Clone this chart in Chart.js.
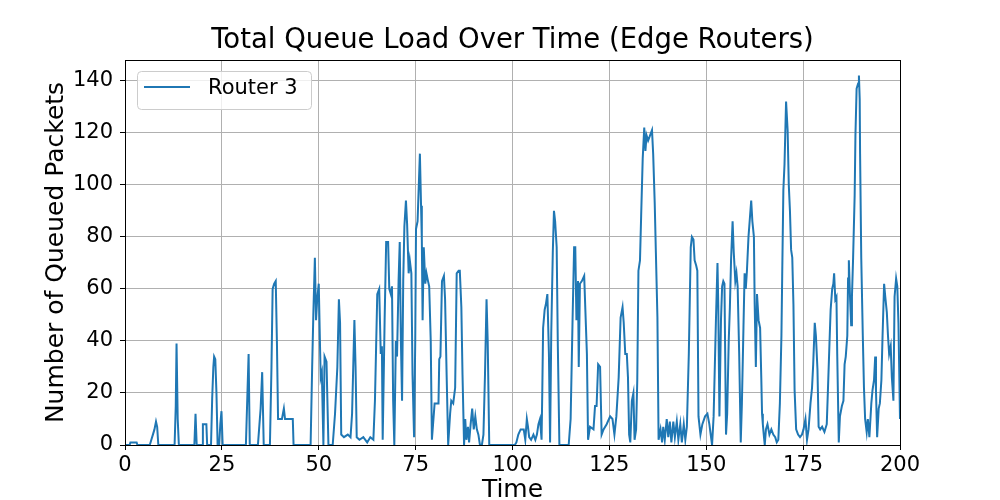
<!DOCTYPE html>
<html lang="en">
<head>
  <meta charset="UTF-8" />
  <title>Total Queue Load Over Time</title>
  <script src="https://cdn.jsdelivr.net/npm/chart.js"></script>
  <style>
    body { margin: 0; background: #fff; }
    canvas { display: block; }
  </style>
</head>
<body>
  <canvas id="queueChart" width="1000" height="500"></canvas>

  <script>
    // values (time, queued packets)
    const times = [
      0, 1.2, 1.4, 3.0, 3.2, 6.4, 6.8, 7.2, 7.6, 8.0,
      8.3, 8.6, 12.8, 13.1, 13.3, 13.6, 13.9, 17.9, 18.2, 18.5,
      19.9, 20.1, 21.0, 21.2, 22.2, 22.5, 22.8, 23.0, 23.3, 23.6,
      23.9, 24.3, 24.6, 24.9, 25.2, 31.2, 31.6, 31.9, 32.2, 34.3,
      34.7, 35.0, 35.4, 35.8, 37.4, 37.8, 38.1, 38.5, 38.9, 39.2,
      39.5, 40.5, 41.0, 41.3, 43.3, 43.5, 47.9, 48.3, 48.6, 49.0,
      49.3, 49.6, 50.0, 50.3, 50.5, 50.8, 51.2, 51.5, 52.0, 52.5,
      53.6, 54.2, 54.8, 55.2, 55.5, 55.8, 56.5, 57.5, 58.2, 58.6,
      58.9, 59.2, 59.5, 59.8, 60.5, 61.5, 62.5, 63.3, 64.1, 64.5,
      65.1, 65.6, 66.0, 66.3, 66.5, 67.0, 67.4, 67.9, 68.2, 68.6,
      68.9, 69.2, 69.5, 69.9, 70.2, 70.6, 70.9, 71.2, 71.5, 71.8,
      72.1, 72.5, 72.8, 73.2, 73.5, 73.9, 74.2, 74.6, 74.9, 75.1,
      75.5, 76.1, 76.4, 76.6, 76.8, 77.1, 77.5, 77.8, 78.2, 78.5,
      78.9, 79.2, 79.5, 79.9, 80.9, 81.1, 81.4, 81.8, 82.3, 82.6,
      83.0, 83.4, 83.9, 84.2, 84.7, 85.2, 85.6, 86.1, 86.4, 86.8,
      87.1, 87.5, 87.8, 88.1, 88.5, 88.8, 89.2, 89.6, 90.0, 90.4,
      90.8, 91.2, 91.6, 92.1, 92.5, 92.9, 93.3, 93.6, 94.0, 100.6,
      101.0, 101.5, 102.1, 102.9, 103.3, 103.7, 104.0, 104.3, 104.8, 105.4,
      105.9, 106.3, 106.7, 107.1, 107.5, 107.7, 107.9, 108.3, 108.6, 109.0,
      109.4, 109.7, 110.0, 110.4, 110.7, 111.0, 111.4, 111.7, 112.1, 114.5,
      115.0, 115.5, 115.9, 116.2, 116.5, 116.9, 117.1, 117.4, 117.9, 118.5,
      118.8, 119.2, 119.5, 120.0, 120.9, 121.3, 121.7, 122.1, 122.6, 123.0,
      123.5, 124.3, 125.2, 125.8, 126.3, 126.8, 127.4, 127.9, 128.4, 128.7,
      129.1, 129.5, 129.8, 130.1, 130.4, 130.8, 131.2, 131.5, 131.9, 132.2,
      132.5, 132.9, 133.2, 133.6, 134.0, 134.3, 134.6, 135.0, 135.5, 136.0,
      136.3, 136.7, 137.0, 137.4, 137.7, 138.2, 138.6, 138.9, 139.3, 139.8,
      140.2, 140.6, 141.0, 141.5, 141.9, 142.4, 142.8, 143.3, 143.7, 144.2,
      144.6, 145.0, 145.5, 146.0, 146.3, 146.7, 147.0, 147.4, 147.7, 148.0,
      148.5, 149.0, 149.7, 150.3, 150.8, 151.5, 151.9, 152.5, 152.9, 153.1,
      153.4, 153.8, 154.1, 154.4, 154.7, 155.1, 155.4, 155.8, 156.1, 156.4,
      156.8, 157.1, 157.5, 157.8, 158.1, 158.5, 158.9, 159.2, 159.6, 159.9,
      160.2, 160.5, 160.9, 161.2, 161.6, 161.9, 162.3, 162.5, 162.8, 163.1,
      163.5, 163.9, 164.2, 164.4, 164.6, 164.9, 165.1, 165.4, 165.8, 166.3,
      166.8, 167.3, 167.8, 168.2, 168.6, 169.0, 169.4, 169.6, 169.9, 170.2,
      170.6, 171.0, 171.3, 171.6, 171.9, 172.2, 172.5, 172.8, 173.2, 173.7,
      174.2, 174.7, 175.1, 175.6, 176.0, 176.4, 176.9, 177.3, 177.6, 178.0,
      178.3, 178.7, 179.0, 179.4, 179.9, 180.5, 181.1, 181.4, 181.8, 182.1,
      182.5, 182.8, 183.0, 183.3, 183.6, 183.8, 184.2, 184.5, 185.0, 185.4,
      185.7, 186.0, 186.4, 186.6, 186.8, 187.1, 187.4, 187.6, 187.9, 188.3,
      188.5, 188.8, 189.2, 189.4, 189.6, 189.7, 190.0, 190.4, 190.7, 191.0,
      191.4, 191.7, 192.1, 192.6, 192.9, 193.3, 193.6, 193.8, 194.1, 194.5,
      194.8, 195.2, 195.5, 195.9, 196.2, 196.6, 196.9, 197.2, 197.6, 197.9,
      198.3, 198.6, 199.0, 199.3, 199.6, 200.0
    ];
    const queueLoad = [
      0, 0, 1, 1, 0, 0, 2, 4, 6, 9,
      7, 0, 0, 15, 39, 10, 0, 0, 12, 0,
      0, 8, 8, 0, 0, 18, 30, 34, 33, 20,
      0, 0, 8, 13, 0, 0, 20, 35, 0, 0,
      8, 14, 28, 0, 0, 30, 60, 62, 63, 40,
      10, 10, 14, 10, 10, 0, 0, 30, 50, 72,
      48, 56, 62, 40, 26, 28, 0, 34, 32, 0,
      0, 12, 30, 56, 47, 4, 3, 4, 3, 12,
      30, 48, 30, 3, 2, 3, 1, 3, 2, 17,
      58, 60, 35, 38, 2, 48, 78, 78, 60, 58,
      61, 17, 0, 40, 34, 63, 78, 40, 17, 63,
      84, 94, 85, 66, 71, 66, 27, 3, 40, 83,
      86, 112, 92, 79, 48, 76, 62, 66, 63, 61,
      40, 2, 8, 16, 16, 33, 34, 63, 65, 56,
      27, 0, 12, 17, 16, 22, 66, 67, 67, 53,
      27, 0, 10, 2, 7, 1, 8, 14, 6, 11,
      6, 4, 0, 0, 4, 27, 56, 40, 0, 0,
      1, 4, 6, 6, 2, 10, 7, 3, 2, 4,
      2, 4, 8, 10, 2, 22, 45, 52, 54, 58,
      35, 1, 43, 74, 90, 86, 76, 38, 0, 0,
      10, 48, 76, 76, 48, 63, 30, 62, 63, 65,
      52, 35, 2, 7, 6, 15, 15, 31, 30, 4,
      6, 8, 11, 10, 4, 11, 26, 49, 53, 47,
      35, 35, 26, 4, 1, 17, 20, 2, 6, 25,
      67, 71, 88, 110, 122, 113, 119, 117, 119, 121,
      112, 93, 74, 49, 2, 6, 1, 7, 2, 10,
      3, 9, 1, 9, 3, 9, 2, 8, 1, 8,
      2, 7, 35, 76, 80, 79, 71, 69, 67, 11,
      4, 8, 11, 12, 8, 0, 11, 48, 70, 54,
      11, 48, 61, 63, 62, 4, 12, 40, 53, 71,
      86, 74, 63, 66, 61, 35, 1, 16, 45, 66,
      60, 67, 80, 86, 94, 86, 80, 54, 30, 58,
      48, 45, 26, 12, 8, 3, 0, 6, 8, 4,
      6, 4, 3, 1, 2, 16, 42, 65, 98, 108,
      132, 121, 100, 90, 75, 72, 54, 21, 6, 4,
      3, 4, 6, 10, 2, 6, 16, 22, 31, 47,
      42, 29, 7, 6, 7, 5, 8, 21, 39, 52,
      60, 62, 66, 56, 57, 35, 1, 11, 15, 17,
      31, 34, 42, 64, 71, 57, 46, 57, 72, 96,
      119, 137, 139, 142, 133, 112, 72, 42, 22, 10,
      5, 10, 3, 16, 21, 25, 34, 21, 3, 14,
      16, 25, 42, 62, 57, 51, 42, 35, 38, 26,
      17, 57, 64, 61, 47, 10
    ];
    const xTicks = [0, 25, 50, 75, 100, 125, 150, 175, 200];
    const yTicks = [0, 20, 40, 60, 80, 100, 120, 140];

    Chart.defaults.font.family = "'DejaVu Sans', sans-serif";
    Chart.defaults.color = "#000";

    // axes frame on all four sides, like matplotlib spines
    const framePlugin = {
      id: "frame",
      afterDatasetsDraw(chart) {
        const { ctx, chartArea: a } = chart;
        ctx.save();
        ctx.strokeStyle = "#000";
        ctx.lineWidth = 1;
        ctx.strokeRect(a.left + 0.5, a.top + 0.5, a.right - a.left, a.bottom - a.top);
        ctx.restore();
      }
    };

    // boxed legend in the upper left corner
    const boxLegend = {
      id: "boxLegend",
      afterDraw(chart) {
        const { ctx, chartArea: a } = chart;
        const ds = chart.data.datasets[0];
        const x = a.left + 12, y = a.top + 11, w = 174, h = 38;
        ctx.save();
        ctx.beginPath();
        ctx.roundRect(x + 0.5, y + 0.5, w, h, 4);
        ctx.fillStyle = "rgba(255,255,255,0.8)";
        ctx.fill();
        ctx.strokeStyle = "#cccccc";
        ctx.lineWidth = 1;
        ctx.stroke();
        ctx.beginPath();
        ctx.moveTo(x + 7, y + 16);
        ctx.lineTo(x + 53, y + 16);
        ctx.strokeStyle = ds.borderColor;
        ctx.lineWidth = 2;
        ctx.stroke();
        ctx.fillStyle = "#000";
        ctx.font = "21px 'DejaVu Sans'";
        ctx.textBaseline = "middle";
        ctx.fillText(ds.label, x + 71, y + 18);
        ctx.restore();
      }
    };

    const ctx = document.getElementById("queueChart").getContext("2d");
    new Chart(ctx, {
      type: "line",
      data: {
        datasets: [{
          label: "Router 3",
          data: times.map((t, i) => ({ x: t, y: queueLoad[i] })),
          borderColor: "#1f77b4",
          borderWidth: 2,
          pointRadius: 0,
          tension: 0,
          fill: false
        }]
      },
      options: {
        responsive: false,
        animation: false,
        layout: { padding: { left: 0, right: 100, top: 0, bottom: 0 } },
        plugins: {
          legend: { display: false },
          tooltip: { enabled: false },
          title: {
            display: true,
            fullSize: false,
            text: "Total Queue Load Over Time (Edge Routers)",
            font: { size: 27.5, weight: "normal" },
            color: "#000",
            padding: { top: 24, bottom: 3 }
          }
        },
        scales: {
          x: {
            type: "linear",
            min: 0,
            max: 200,
            afterBuildTicks: s => { s.ticks = xTicks.map(v => ({ value: v })); },
            afterFit: s => { s.height = 55; },
            ticks: { font: { size: 21 }, color: "#000", padding: 3, maxRotation: 0 },
            grid: { color: "#b0b0b0", lineWidth: 1, tickColor: "#000", tickLength: 5 },
            border: { color: "#000", width: 1 },
            title: {
              display: true,
              text: "Time",
              font: { size: 25, lineHeight: 0.8 },
              color: "#000",
              padding: 0
            }
          },
          y: {
            min: 0,
            max: 148,
            afterBuildTicks: s => { s.ticks = yTicks.map(v => ({ value: v })); },
            afterFit: s => { s.width = 125; },
            ticks: { font: { size: 21 }, color: "#000", padding: 7 },
            grid: { color: "#b0b0b0", lineWidth: 1, tickColor: "#000", tickLength: 5 },
            border: { color: "#000", width: 1 },
            title: {
              display: true,
              text: "Number of Queued Packets",
              font: { size: 25 },
              color: "#000",
              padding: { top: 41, bottom: 0 }
            }
          }
        }
      },
      plugins: [framePlugin, boxLegend]
    });
  </script>
</body>
</html>
